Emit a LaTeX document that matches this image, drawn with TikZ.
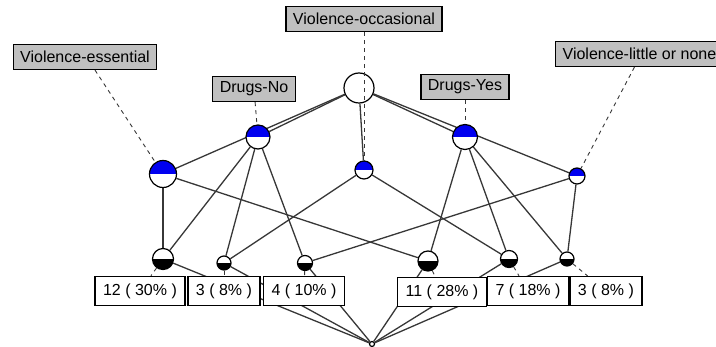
\documentclass[tikz,border=0pt]{standalone}
\usepackage{fontspec}
\setmainfont{Liberation Sans}
\usetikzlibrary{backgrounds}

\definecolor{labgray}{RGB}{192,192,192}
\definecolor{conblue}{RGB}{0,0,240}
\definecolor{linegray}{RGB}{55,55,55}

\tikzset{
  lab/.style={draw, fill=labgray, line width=1.3pt, font=\fontsize{16}{18}\selectfont, inner xsep=7pt, inner ysep=0pt, minimum height=25pt},
  cnt/.style={draw, fill=white, line width=1.3pt, font=\fontsize{16}{18}\selectfont, inner xsep=8pt, inner ysep=0pt, minimum height=29pt},
  plain/.style={circle, draw, fill=white, inner sep=0pt, line width=1.2pt, minimum size=#1},
  attr/.style={plain=#1, path picture={\fill[conblue] (path picture bounding box.north west) rectangle (path picture bounding box.east);}},
  obj/.style={plain=#1, path picture={\fill[black] (path picture bounding box.west) rectangle (path picture bounding box.south east);}},
  link/.style={draw=linegray, line width=1.3pt},
  hint/.style={draw=linegray, line width=0.9pt, dash pattern=on 4pt off 4pt}
}

\begin{document}
\begin{tikzpicture}[x=1pt, y=-1pt]
    \useasboundingbox (0,0) rectangle (716,347);
    \clip (0,0) rectangle (716,347);

    % Top and bottom of the lattice
    \node[plain=30pt] (top) at (359,88) {};
    \node[plain=5pt] (bot) at (372,344) {};

    % Attribute nodes
    \node[attr=24pt] (dno) at (258,137) {};
    \node[attr=27pt] (vess) at (163,174) {};
    \node[attr=18pt] (vocc) at (364,170) {};
    \node[attr=25pt] (dyes) at (465,137) {};
    \node[attr=16pt] (vlit) at (577,176) {};

    % Object nodes
    \node[obj=21pt] (o1) at (163,259) {};
    \node[obj=14pt] (o2) at (224,263) {};
    \node[obj=15pt] (o3) at (305,263) {};
    \node[obj=20pt] (o4) at (428,261) {};
    \node[obj=17pt] (o5) at (509,259) {};
    \node[obj=14pt] (o6) at (567,259) {};

    % Edges of the lattice
    \begin{scope}[on background layer]
    \draw[link] (top) -- (dno);
    \draw[link] (top) -- (vess);
    \draw[link] (top) -- (vocc);
    \draw[link] (top) -- (dyes);
    \draw[link] (top) -- (vlit);

    \draw[link] (dno) -- (o1);
    \draw[link] (dno) -- (o2);
    \draw[link] (dno) -- (o3);
    \draw[link] (dyes) -- (o4);
    \draw[link] (dyes) -- (o5);
    \draw[link] (dyes) -- (o6);
    \draw[link] (vess) -- (o1);
    \draw[link] (vess) -- (o4);
    \draw[link] (vocc) -- (o2);
    \draw[link] (vocc) -- (o5);
    \draw[link] (vlit) -- (o3);
    \draw[link] (vlit) -- (o6);

    \draw[link] (o1) -- (bot);
    \draw[link] (o2) -- (bot);
    \draw[link] (o3) -- (bot);
    \draw[link] (o4) -- (bot);
    \draw[link] (o5) -- (bot);
    \draw[link] (o6) -- (bot);
    \end{scope}

    % Attribute labels
    \node[lab] (lvocc) at (364,19) {Violence-occasional};
    \node[lab] (lvess) at (85,57) {Violence-essential};
    \node[lab] (ldno) at (254,89) {Drugs-No};
    \node[lab] (ldyes) at (465,87) {Drugs-Yes};
    \node[lab, anchor=west] (lvlit) at (555,54) {Violence-little or none};

    \draw[hint] (lvocc) -- (vocc);
    \draw[hint] (lvess.south) ++(10,0) coordinate (cvess) (cvess) -- (vess);
    \draw[hint] (ldno) -- (dno);
    \draw[hint] (ldyes) -- (dyes);
    \draw[hint] (lvlit.south) ++(-5,0) coordinate (cvlit) (cvlit) -- (vlit);

    % Object labels
    \node[cnt] (c1) at (140,291) {12 ( 30\% )};
    \node[cnt] (c2) at (224,291) {3 ( 8\% )};
    \node[cnt] (c3) at (304,291) {4 ( 10\% )};
    \node[cnt] (c4) at (442,292) {11 ( 28\% )};
    \node[cnt] (c5) at (528,291) {7 ( 18\% )};
    \node[cnt] (c6) at (606,291) {3 ( 8\% )};

    \begin{scope}[on background layer]
    \draw[hint] (o1) -- (c1);
    \draw[hint] (o2) -- (c2);
    \draw[hint] (o3) -- (c3);
    \draw[hint] (o4) -- (c4);
    \draw[hint] (o5) -- (c5);
    \draw[hint] (o6) -- (c6);
    \end{scope}
\end{tikzpicture}
\end{document}
